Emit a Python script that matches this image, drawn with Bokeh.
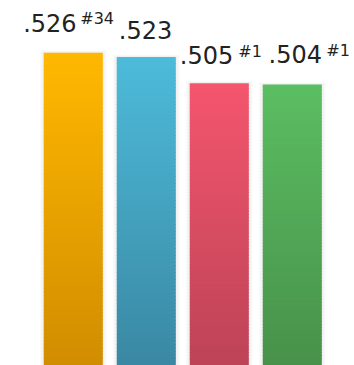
from bokeh.plotting import figure
from bokeh.models import Range1d
from bokeh.core.properties import value
from bokeh.embed import file_html
from bokeh.resources import INLINE

# ---- data ----
labels = [".526", ".523", ".505", ".504"]
ranks = ["#34", "", "#1", "#1"]
scores = [0.526, 0.523, 0.505, 0.504]
top_colors = ["#FFB800", "#4DBBDA", "#F4566E", "#5BBE62"]
bottom_colors = ["#D18D00", "#3A88A3", "#BD4356", "#48914A"]
y_base = 0.31

# ---- style ----
W, H = 354, 365
x_start, x_end = -0.997, 3.852
y_start, y_end = y_base, 0.5621
bar_w = 0.808
main_dx = [-50.1, -27.5, -39.5, -23.7]
main_dy = [-30, -26.7, -28, -30.4]
sup_dx = [7.0, 0, 19.0, 34.0]
sup_dy = [-4.0, -4.0, -4.0, -4.0]

px_x = (x_end - x_start) / W
px_y = (y_end - y_start) / H

p = figure(width=W, height=H, output_backend="svg", toolbar_location=None,
           x_range=Range1d(x_start, x_end), y_range=Range1d(y_start, y_end),
           min_border=0, outline_line_color=None, background_fill_color="white",
           border_fill_color="white")
p.axis.visible = False
p.grid.visible = False


def hex2rgb(h):
    h = h.lstrip("#")
    return tuple(int(h[i:i + 2], 16) for i in (0, 2, 4))


def lerp(c1, c2, t):
    a, b = hex2rgb(c1), hex2rgb(c2)
    return "#%02x%02x%02x" % tuple(round(a[i] + (b[i] - a[i]) * t) for i in range(3))


xs = list(range(len(scores)))

# shadows
for k in range(1, 5):
    p.quad(left=[x - bar_w / 2 - k * px_x for x in xs],
           right=[x + bar_w / 2 + k * px_x for x in xs],
           top=[v + k * px_y * 0.6 for v in scores],
           bottom=[y_base for _ in xs],
           fill_color="#808080", fill_alpha=0.03, line_color=None)

# gradient bars
n = 90
for i, v in enumerate(scores):
    step = (v - y_base) / n
    lefts, rights, tops, bots, cols = [], [], [], [], []
    for j in range(n):
        b = y_base + j * step
        t = b + step
        frac = 1 - (j + 0.5) / n  # 0 at top, 1 at bottom
        lefts.append(i - bar_w / 2)
        rights.append(i + bar_w / 2)
        bots.append(b)
        tops.append(t + step * 0.3 if j < n - 1 else t)
        cols.append(lerp(top_colors[i], bottom_colors[i], frac))
    p.quad(left=lefts, right=rights, top=tops, bottom=bots,
           fill_color=cols, line_color=None)

# labels
for i, v in enumerate(scores):
    p.text(x=[i], y=[v], text=[labels[i]], x_offset=main_dx[i], y_offset=main_dy[i],
           text_font=value("DejaVu Sans"), text_font_size="24px", text_color="#222222",
           text_align="left", text_baseline="alphabetic")
    if ranks[i]:
        p.text(x=[i], y=[v], text=[ranks[i]], x_offset=sup_dx[i],
               y_offset=main_dy[i] + sup_dy[i],
               text_font=value("DejaVu Sans"), text_font_size="16px",
               text_color="#222222", text_align="left", text_baseline="alphabetic")

open("out.html", "w").write(file_html(p, INLINE))
